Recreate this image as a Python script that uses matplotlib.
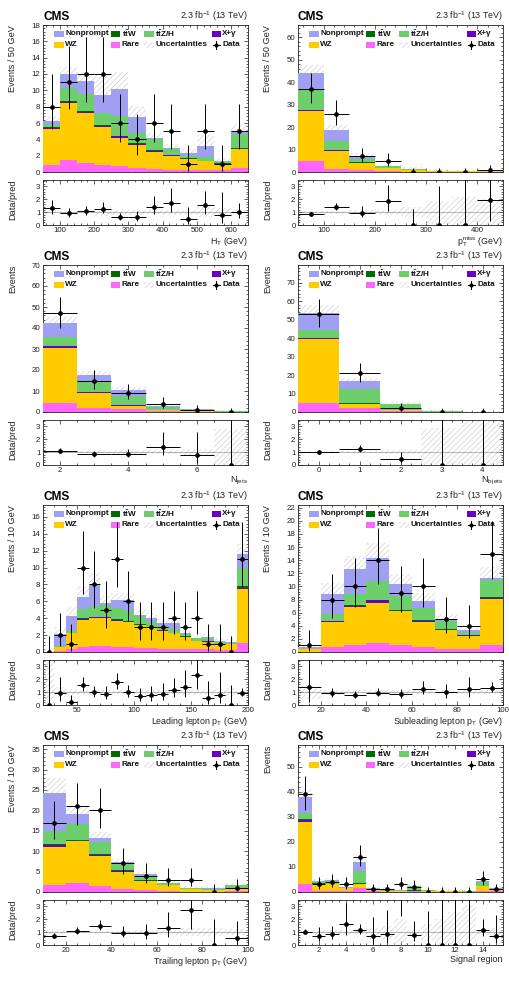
import math
import numpy as np
import matplotlib
matplotlib.use('Agg')
import matplotlib.pyplot as plt
from matplotlib.patches import Rectangle
from matplotlib.ticker import MultipleLocator, NullFormatter

plt.rcParams['font.family'] = ['Liberation Sans', 'DejaVu Sans']
plt.rcParams['mathtext.fontset'] = 'custom'
plt.rcParams['mathtext.rm'] = 'Liberation Sans'
plt.rcParams['mathtext.it'] = 'Liberation Sans:italic'
plt.rcParams['mathtext.bf'] = 'Liberation Sans:bold'
plt.rcParams['hatch.linewidth'] = 0.45

# ---------------- data ----------------
# Panel 1: HT
ht_edges = [50, 100, 150, 200, 250, 300, 350, 400, 450, 500, 550, 600, 650]
ht_rare = [0.9, 1.5, 1.1, 0.9, 0.7, 0.5, 0.4, 0.3, 0.3, 0.2, 0.2, 0.5]
ht_wz = [4.4, 7.0, 6.1, 4.6, 3.5, 2.8, 2.1, 1.7, 1.3, 1.1, 0.8, 2.3]
ht_xg = [0.1, 0.1, 0.2, 0.15, 0.15, 0.1, 0.05, 0.05, 0.05, 0.05, 0.02, 0.05]
ht_ttw = [0.05, 0.1, 0.1, 0.1, 0.1, 0.1, 0.1, 0.05, 0.05, 0.05, 0.05, 0.1]
ht_ttzh = [0.35, 1.6, 2.0, 1.45, 2.35, 1.3, 1.45, 0.7, 0.3, 0.4, 0.13, 1.65]
ht_np = [0.4, 1.7, 1.6, 2.2, 3.4, 1.9, 0.1, 0.1, 0.3, 1.4, 0.1, 0.4]
ht_data = [8, 11, 12, 12, 6, 4, 6, 5, 1, 5, 1, 5]
ht_unc = [0.1, 0.07, 0.1, 0.28, 0.2, 0.2, 0.15, 0.2, 0.2, 0.4, 0.3, 0.15]

# Panel 2: MET
met_edges = [50, 100, 150, 200, 250, 300, 350, 400, 450]
met_rare = [5.0, 1.5, 0.7, 0.3, 0.2, 0.1, 0.05, 0.05]
met_wz = [22.0, 7.9, 3.3, 1.5, 0.7, 0.25, 0.25, 0.25]
met_xg = [0.5, 0.2, 0.1, 0.05, 0.02, 0.01, 0.01, 0.01]
met_ttw = [0.3, 0.3, 0.15, 0.05, 0.03, 0.02, 0.02, 0.02]
met_ttzh = [8.7, 3.7, 1.55, 0.6, 0.35, 0.12, 0.07, 0.12]
met_np = [7.5, 4.9, 1.4, 0.2, 0.2, 0.1, 0.1, 0.07]
met_data = [37, 26, 7, 5, 0, 0, 0, 1]
met_unc = [0.08, 0.12, 0.15, 0.2, 0.4, 0.9, 1.2, 1.0]

# Panel 3: Njets
nj_edges = [1.5, 2.5, 3.5, 4.5, 5.5, 6.5, 7.5]
nj_rare = [4.3, 1.8, 1.2, 0.4, 0.2, 0.05]
nj_wz = [26.4, 7.4, 1.8, 0.6, 0.2, 0.05]
nj_xg = [0.5, 0.2, 0.1, 0.03, 0.01, 0.0]
nj_ttw = [0.3, 0.3, 0.2, 0.1, 0.05, 0.02]
nj_ttzh = [4.0, 4.8, 4.5, 1.37, 0.64, 0.18]
nj_np = [7.0, 3.3, 2.5, 0.3, 0.2, 0.05]
nj_data = [47, 15, 9, 4, 1, 0]
nj_unc = [0.07, 0.1, 0.15, 0.15, 0.25, 1.8]

# Panel 4: Nbjets
nb_edges = [-0.5, 0.5, 1.5, 2.5, 3.5, 4.5]
nb_rare = [4.9, 2.0, 0.5, 0.05, 0.02]
nb_wz = [34.6, 2.3, 0.5, 0.05, 0.03]
nb_xg = [0.5, 0.1, 0.05, 0.0, 0.0]
nb_ttw = [0.2, 0.4, 0.3, 0.03, 0.02]
nb_ttzh = [4.2, 7.7, 2.95, 0.22, 0.11]
nb_np = [9.1, 4.3, 0.2, 0.05, 0.02]
nb_data = [53, 21, 2, 0, 0]
nb_unc = [0.08, 0.1, 0.15, 1.9, 2.7]

# Panel 5: leading lepton pT
l1_edges = [20, 30, 40, 50, 60, 70, 80, 90, 100, 110, 120, 130, 140, 150, 160, 170, 180, 190, 200]
l1_rare = [0.0, 0.1, 0.3, 0.6, 0.7, 0.7, 0.6, 0.6, 0.5, 0.5, 0.4, 0.4, 0.3, 0.3, 0.3, 0.2, 0.2, 1.1]
l1_wz = [0.03, 0.5, 1.9, 3.2, 3.3, 3.3, 3.1, 2.9, 2.7, 2.3, 2.1, 1.8, 1.5, 1.0, 0.9, 0.7, 0.7, 6.4]
l1_xg = [0.0, 0.02, 0.05, 0.1, 0.1, 0.1, 0.1, 0.05, 0.05, 0.05, 0.05, 0.05, 0.03, 0.03, 0.1, 0.02, 0.02, 0.1]
l1_ttw = [0.0, 0.02, 0.05, 0.1, 0.1, 0.1, 0.1, 0.1, 0.1, 0.05, 0.05, 0.05, 0.03, 0.03, 0.03, 0.02, 0.02, 0.2]
l1_ttzh = [0.01, 0.06, 0.2, 1.1, 1.3, 1.4, 1.3, 1.25, 0.95, 0.7, 0.5, 0.4, 0.24, 0.24, 0.27, 0.26, 0.16, 2.2]
l1_np = [0.01, 1.4, 1.8, 1.4, 2.6, 0.2, 0.9, 1.2, 0.1, 0.4, 0.3, 0.7, 0.1, 0.1, 0.2, 0.1, 0.1, 1.6]
l1_data = [0, 2, 1, 10, 8, 5, 11, 6, 3, 3, 3, 4, 3, 4, 1, 1, 0, 11]
l1_unc = [5.0, 0.4, 0.25, 0.2, 0.15, 0.15, 0.15, 0.15, 0.15, 0.15, 0.15, 0.15, 0.2, 0.2, 0.2, 0.25, 0.3, 0.1]

# Panel 6: subleading lepton pT
l2_edges = [10, 20, 30, 40, 50, 60, 70, 80, 90, 100]
l2_rare = [0.05, 0.7, 1.1, 1.3, 1.0, 0.8, 0.5, 0.4, 1.1]
l2_wz = [0.4, 3.9, 5.8, 6.2, 5.2, 3.7, 2.8, 2.1, 7.0]
l2_xg = [0.0, 0.1, 0.15, 0.4, 0.1, 0.3, 0.1, 0.05, 0.1]
l2_ttw = [0.0, 0.1, 0.15, 0.1, 0.1, 0.1, 0.1, 0.05, 0.2]
l2_ttzh = [0.05, 1.0, 1.7, 2.8, 2.2, 1.8, 1.3, 0.5, 2.5]
l2_np = [0.2, 3.0, 3.8, 3.6, 1.8, 1.1, 0.3, 0.2, 0.4]
l2_data = [1, 8, 10, 14, 9, 10, 5, 4, 15]
l2_unc = [0.5, 0.2, 0.15, 0.15, 0.15, 0.15, 0.15, 0.15, 0.15]

# Panel 7: trailing lepton pT
l3_edges = [10, 20, 30, 40, 50, 60, 70, 80, 90, 100]
l3_rare = [1.8, 2.1, 1.5, 0.7, 0.4, 0.3, 0.1, 0.1, 0.2]
l3_wz = [9.3, 10.3, 7.4, 4.3, 2.3, 1.3, 0.6, 0.4, 0.7]
l3_xg = [0.4, 0.1, 0.2, 0.1, 0.05, 0.02, 0.02, 0.01, 0.02]
l3_ttw = [0.2, 0.2, 0.2, 0.2, 0.1, 0.05, 0.03, 0.02, 0.05]
l3_ttzh = [3.3, 3.9, 3.0, 1.7, 0.95, 0.53, 0.25, 0.27, 0.73]
l3_np = [9.3, 2.6, 1.0, 0.3, 0.5, 0.1, 0.1, 0.1, 0.1]
l3_data = [17, 21, 20, 7, 4, 3, 3, 0, 1]
l3_unc = [0.15, 0.1, 0.1, 0.1, 0.15, 0.2, 0.3, 0.3, 0.25]

# Panel 8: signal regions
sr_edges = [0.5, 1.5, 2.5, 3.5, 4.5, 5.5, 6.5, 7.5, 8.5, 9.5, 10.5, 11.5, 12.5, 13.5, 14.5, 15.5]
sr_rare = [3.3, 0.5, 0.4, 0.3, 1.5, 0.2, 0.1, 0.1, 0.3, 0.1, 0.05, 0.05, 0.05, 0.4, 0.2]
sr_wz = [24.7, 2.8, 2.6, 1.1, 1.6, 0.4, 0.4, 0.2, 0.1, 0.2, 0.15, 0.15, 0.05, 1.9, 0.7]
sr_xg = [0.8, 0.05, 0.1, 0.02, 0.1, 0.02, 0.02, 0.01, 0.02, 0.01, 0.01, 0.01, 0.01, 0.05, 0.02]
sr_ttw = [0.3, 0.1, 0.2, 0.05, 0.3, 0.1, 0.05, 0.05, 0.3, 0.05, 0.03, 0.03, 0.03, 0.2, 0.05]
sr_ttzh = [2.4, 0.55, 1.1, 0.23, 4.8, 0.58, 0.53, 0.14, 1.68, 0.24, 0.21, 0.11, 0.11, 1.45, 0.33]
sr_np = [6.5, 0.3, 0.4, 0.1, 3.5, 0.2, 0.1, 0.1, 0.1, 0.1, 0.05, 0.05, 0.05, 0.2, 0.1]
sr_data = [39, 3, 4, 3, 14, 1, 1, 3, 2, 0, 0, 0, 0, 5, 1]
sr_unc = [0.08, 0.2, 0.2, 0.2, 0.15, 0.3, 0.5, 1.0, 0.2, 0.6, 1.0, 1.6, 2.1, 0.2, 0.3]

proc_names = ['Rare', 'WZ', 'Xg', 'ttW', 'ttZH', 'NP']
proc_colors = {'Rare': '#ff66ff', 'WZ': '#ffcc00', 'Xg': '#6a00c8',
               'ttW': '#006b00', 'ttZH': '#6ccf6c', 'NP': '#a0a0f2'}
UNC_COL = '#cdcdcd'
TXT = '#222222'

# ---------------- helpers ----------------
def pois_cdf(n, mu):
    s = 0.0
    term = math.exp(-mu)
    for k in range(n + 1):
        if k > 0:
            term *= mu / k
        s += term
    return s

def garwood(n):
    a = 0.158655
    lo, hi = 0.0, n + 20.0 + 5 * math.sqrt(n + 1)
    for _ in range(80):
        mid = 0.5 * (lo + hi)
        if pois_cdf(n, mid) > a:
            lo = mid
        else:
            hi = mid
    up = 0.5 * (lo + hi)
    if n == 0:
        return 0.0, up
    lo, hi = 0.0, float(n)
    for _ in range(80):
        mid = 0.5 * (lo + hi)
        if 1 - pois_cdf(n - 1, mid) < a:
            lo = mid
        else:
            hi = mid
    return 0.5 * (lo + hi), up


def style_axis(ax, xmaj, xmin, ymaj, ymin):
    ax.xaxis.set_major_locator(MultipleLocator(xmaj))
    ax.xaxis.set_minor_locator(MultipleLocator(xmin))
    ax.yaxis.set_major_locator(MultipleLocator(ymaj))
    ax.yaxis.set_minor_locator(MultipleLocator(ymin))
    ax.tick_params(which='both', direction='in', top=True, right=True,
                   labelsize=5.7, width=0.5, pad=1.8, colors=TXT)
    ax.tick_params(which='major', length=3.2)
    ax.tick_params(which='minor', length=1.7)
    for s in ax.spines.values():
        s.set_linewidth(0.6)
        s.set_color(TXT)


def legend(ax):
    row_y = [0.939, 0.866]
    bw, bh = 0.045, 0.042
    cols = [0.055, 0.33, 0.495, 0.822]
    entries = [
        (0, 0, 'NP', 'Nonprompt'),
        (0, 1, 'ttW', r'$\mathbf{t\bar{t}W}$'),
        (0, 2, 'ttZH', r'$\mathbf{t\bar{t}Z/H}$'),
        (0, 3, 'Xg', 'X+γ'),
        (1, 0, 'WZ', 'WZ'),
        (1, 1, 'Rare', 'Rare'),
        (1, 2, 'UNC', 'Uncertainties'),
        (1, 3, 'DATA', 'Data'),
    ]
    for r, c, key, lab in entries:
        x0 = cols[c]
        y = row_y[r]
        if key == 'UNC':
            ax.add_patch(Rectangle((x0, y - bh / 2), bw, bh, transform=ax.transAxes,
                                   facecolor='none', edgecolor=UNC_COL, hatch='//////',
                                   linewidth=0, zorder=6))
        elif key == 'DATA':
            xc = x0 + bw / 2
            ax.plot([x0 + 0.005, x0 + bw - 0.005], [y, y], color='k', lw=0.7,
                    transform=ax.transAxes, zorder=6, clip_on=False)
            ax.plot([xc, xc], [y - bh / 2 - 0.005, y + bh / 2 + 0.005], color='k', lw=0.7,
                    transform=ax.transAxes, zorder=6, clip_on=False)
            ax.plot([xc], [y], 'o', color='k', ms=2.0, transform=ax.transAxes,
                    zorder=7, clip_on=False)
        else:
            ax.add_patch(Rectangle((x0, y - bh / 2), bw, bh, transform=ax.transAxes,
                                   facecolor=proc_colors[key], edgecolor='none',
                                   linewidth=0, zorder=6))
        ax.text(x0 + bw + 0.008, y, lab, transform=ax.transAxes, fontsize=5.9,
                fontweight='bold', va='center', ha='left', zorder=7, color='#111111')


def draw_panel(ax, axr, edges, comps, data, unc, ylim, ymaj, ymin, xmaj, xmin,
               ylabel, xlabel, xlim=None):
    edges = np.asarray(edges, float)
    centers = 0.5 * (edges[:-1] + edges[1:])
    halfw = 0.5 * (edges[1:] - edges[:-1])
    cum = np.zeros(len(centers))
    for name in proc_names:
        v = np.asarray(comps[name], float)
        ax.stairs(cum + v, edges, baseline=cum, fill=True,
                  color=proc_colors[name], linewidth=0, zorder=3)
        cum = cum + v
    total = cum
    unc = np.asarray(unc, float)
    up = total * (1 + unc)
    dn = np.clip(total * (1 - unc), 0, None)
    ax.stairs(up, edges, baseline=dn, fill=True, facecolor='none',
              edgecolor=UNC_COL, hatch='//////', linewidth=0, zorder=2)

    data = np.asarray(data, float)
    errs = [garwood(int(n)) for n in data]
    elo = np.array([n - e[0] for n, e in zip(data, errs)])
    ehi = np.array([e[1] - n for n, e in zip(data, errs)])
    ax.errorbar(centers, data, yerr=[elo, ehi], xerr=halfw, fmt='o', color='k',
                ms=2.4, elinewidth=0.7, capsize=0, zorder=8, clip_on=True)

    if xlim is None:
        xlim = (edges[0], edges[-1])
    ax.set_xlim(*xlim)
    ax.set_ylim(*ylim)
    style_axis(ax, xmaj, xmin, ymaj, ymin)
    ax.xaxis.set_major_formatter(NullFormatter())
    ax.set_ylabel(ylabel, loc='top', fontsize=6.6, color=TXT)
    ax.yaxis.set_label_coords(-0.125, 1.0)

    legend(ax)
    ax.text(0.0, 1.012, 'CMS', transform=ax.transAxes, fontsize=8.6, fontweight='bold',
            ha='left', va='bottom')
    ax.text(1.0, 1.012, r'2.3 fb$^{-1}$ (13 TeV)', transform=ax.transAxes, fontsize=6.4,
            ha='right', va='bottom', color=TXT)

    # ratio
    ratio = data / total
    rlo = elo / total
    rhi = ehi / total
    rb_up = 1 + unc
    rb_dn = np.clip(1 - unc, 0, None)
    axr.stairs(rb_up, edges, baseline=rb_dn, fill=True, facecolor='none',
               edgecolor=UNC_COL, hatch='//////', linewidth=0, zorder=2)
    axr.axhline(1.0, color='#555555', lw=0.6, ls=(0, (1.2, 1.2)), zorder=3)
    axr.errorbar(centers, ratio, yerr=[rlo, rhi], xerr=halfw, fmt='o', color='k',
                 ms=2.4, elinewidth=0.7, capsize=0, zorder=8)
    axr.set_xlim(*xlim)
    axr.set_ylim(0, 3.5)
    style_axis(axr, xmaj, xmin, 1, 0.2)
    axr.set_ylabel('Data/pred', loc='top', fontsize=6.6, color=TXT)
    axr.yaxis.set_label_coords(-0.125, 1.0)
    axr.set_xlabel(xlabel, loc='right', fontsize=6.4, labelpad=0.0, color=TXT)


def comps_of(rare, wz, xg, ttw, ttzh, np_):
    return {'Rare': rare, 'WZ': wz, 'Xg': xg, 'ttW': ttw, 'ttZH': ttzh, 'NP': np_}

# ---------------- layout ----------------
W, H = 509, 983
fig = plt.figure(figsize=(W / 100, H / 100), dpi=100)
col_x = [43, 298]
col_w = 205
row_top = [25, 265, 505, 745]
main_h, gap, rat_h = 147, 8, 45

def make_axes(r, c):
    x = col_x[c] / W
    w = col_w / W
    y_main = 1 - (row_top[r] + main_h) / H
    y_rat = 1 - (row_top[r] + main_h + gap + rat_h) / H
    ax = fig.add_axes([x, y_main, w, main_h / H])
    axr = fig.add_axes([x, y_rat, w, rat_h / H])
    return ax, axr

ax, axr = make_axes(0, 0)
draw_panel(ax, axr, ht_edges, comps_of(ht_rare, ht_wz, ht_xg, ht_ttw, ht_ttzh, ht_np),
           ht_data, ht_unc, (0, 18), 2, 0.4, 100, 20,
           'Events / 50 GeV', r'H$_{\rm T}$ (GeV)')

ax, axr = make_axes(0, 1)
draw_panel(ax, axr, met_edges, comps_of(met_rare, met_wz, met_xg, met_ttw, met_ttzh, met_np),
           met_data, met_unc, (0, 65.5), 10, 2, 100, 20,
           'Events / 50 GeV', r'p$_{\rm T}^{\rm miss}$ (GeV)')

ax, axr = make_axes(1, 0)
draw_panel(ax, axr, nj_edges, comps_of(nj_rare, nj_wz, nj_xg, nj_ttw, nj_ttzh, nj_np),
           nj_data, nj_unc, (0, 70), 10, 2, 2, 0.5,
           'Events', r'N$_{\rm jets}$')

ax, axr = make_axes(1, 1)
draw_panel(ax, axr, nb_edges, comps_of(nb_rare, nb_wz, nb_xg, nb_ttw, nb_ttzh, nb_np),
           nb_data, nb_unc, (0, 79.5), 10, 2, 1, 0.25,
           'Events', r'N$_{\rm b\,jets}$')

ax, axr = make_axes(2, 0)
draw_panel(ax, axr, l1_edges, comps_of(l1_rare, l1_wz, l1_xg, l1_ttw, l1_ttzh, l1_np),
           l1_data, l1_unc, (0, 17.4), 2, 0.4, 50, 10,
           'Events / 10 GeV', r'Leading lepton p$_{\rm T}$ (GeV)')

ax, axr = make_axes(2, 1)
draw_panel(ax, axr, l2_edges, comps_of(l2_rare, l2_wz, l2_xg, l2_ttw, l2_ttzh, l2_np),
           l2_data, l2_unc, (0, 22.4), 2, 0.4, 20, 5,
           'Events / 10 GeV', r'Subleading lepton p$_{\rm T}$ (GeV)')

ax, axr = make_axes(3, 0)
draw_panel(ax, axr, l3_edges, comps_of(l3_rare, l3_wz, l3_xg, l3_ttw, l3_ttzh, l3_np),
           l3_data, l3_unc, (0, 36), 5, 1, 20, 5,
           'Events / 10 GeV', r'Trailing lepton p$_{\rm T}$ (GeV)')

ax, axr = make_axes(3, 1)
draw_panel(ax, axr, sr_edges, comps_of(sr_rare, sr_wz, sr_xg, sr_ttw, sr_ttzh, sr_np),
           sr_data, sr_unc, (0, 58.7), 10, 2, 2, 0.5,
           'Events', 'Signal region')

fig.savefig('out.png', dpi=100, facecolor='white')
